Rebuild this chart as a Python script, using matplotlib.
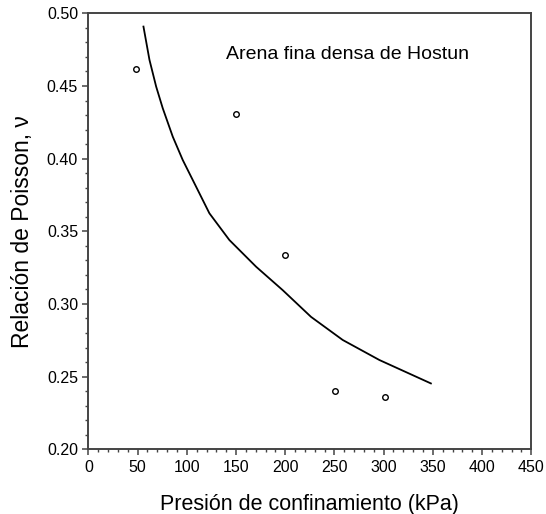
import matplotlib
matplotlib.use("Agg")
import matplotlib.pyplot as plt
from matplotlib.ticker import MultipleLocator

plt.rcParams['font.family'] = ['Liberation Sans', 'DejaVu Sans']

# measured points (confining pressure kPa, Poisson ratio)
presion = [48, 150, 200, 251, 301]
poisson = [0.462, 0.431, 0.334, 0.240, 0.236]

# fitted curve
curva_x = [55.9, 62.0, 68.8, 75.5, 85.7, 95.8, 109.4, 122.9, 143.2, 170.4, 197.4,
           226.2, 258.4, 295.7, 348]
curva_y = [0.4909, 0.468, 0.4496, 0.4347, 0.4151, 0.3991, 0.3807, 0.3624, 0.3440,
           0.3256, 0.3095, 0.2911, 0.2752, 0.2614, 0.2453]

fig = plt.figure(figsize=(5.46, 5.14), dpi=100)
ax = fig.add_axes([0.162, 0.126, 0.811, 0.848])

ax.plot(curva_x, curva_y, color='black', linewidth=1.3)
ax.plot(presion, poisson, 'o', markersize=4, markerfacecolor='white',
        markeredgecolor='black', markeredgewidth=1.0)

ax.set_xlim(0, 450)
ax.set_ylim(0.20, 0.50)
ax.xaxis.set_major_locator(MultipleLocator(50))
ax.xaxis.set_minor_locator(MultipleLocator(10))
ax.yaxis.set_major_locator(MultipleLocator(0.05))
ax.yaxis.set_minor_locator(MultipleLocator(0.01))
ax.yaxis.set_major_formatter(plt.FormatStrFormatter('%.2f'))

for s in ax.spines.values():
    s.set_color('#444444')
    s.set_linewidth(1.4)
ax.tick_params(which='major', direction='out', length=4, width=1.1, colors='#444444',
               labelcolor='black', labelsize=11.5)
ax.tick_params(which='minor', direction='out', length=2.5, width=1.0, colors='#444444')

ax.set_xlabel('Presión de confinamiento (kPa)', fontsize=15.5, labelpad=14)
ax.set_ylabel('Relación de Poisson, ν', fontsize=16.5, labelpad=9)

ax.text(0.311, 0.905, 'Arena fina densa de Hostun', transform=ax.transAxes,
        fontsize=14, ha='left', va='center')

fig.savefig('out.png', dpi=100)
